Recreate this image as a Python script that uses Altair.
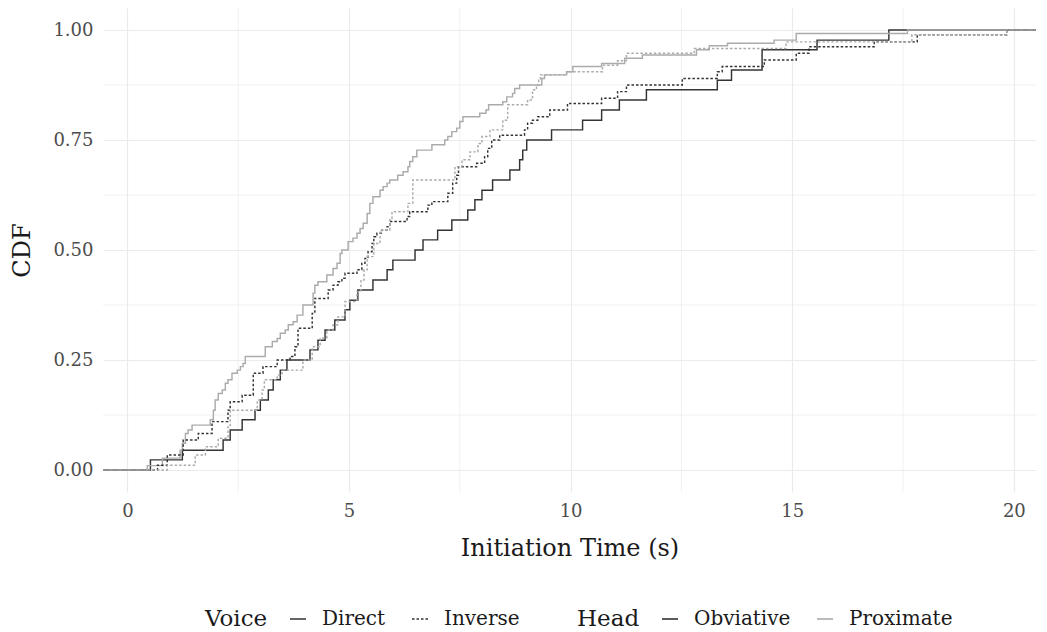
import altair as alt
import pandas as pd

# axis extents (ggplot-style 5% expansion around the data)
X_MIN, X_MAX = -0.55, 20.5
Y_MIN, Y_MAX = -0.05, 1.05

x_ticks = [0, 5, 10, 15, 20]
y_ticks = [0.0, 0.25, 0.50, 0.75, 1.00]
x_minor = [2.5, 7.5, 12.5, 17.5]
y_minor = [0.125, 0.375, 0.625, 0.875]

# Direct / Obviative (dark, solid)
do_time = [0.52, 1.24, 2.16, 2.32, 2.59, 2.88, 3.00, 3.18, 3.29, 3.45, 3.60, 4.12, 4.30, 4.46,
           4.68, 4.91, 5.02, 5.20, 5.54, 5.86, 5.99, 6.49, 6.67, 7.00, 7.32, 7.68, 7.84, 8.00,
           8.24, 8.63, 8.85, 8.92, 9.01, 9.57, 10.27, 10.70, 11.10, 11.71, 13.31, 13.63,
           14.32, 15.56, 17.18]
do_cdf = [0.023, 0.045, 0.068, 0.091, 0.114, 0.136, 0.159, 0.182, 0.205, 0.227, 0.250, 0.273,
          0.295, 0.318, 0.341, 0.364, 0.386, 0.409, 0.432, 0.455, 0.477, 0.500, 0.523, 0.545,
          0.568, 0.591, 0.614, 0.636, 0.659, 0.682, 0.705, 0.727, 0.750, 0.773, 0.795, 0.818,
          0.841, 0.864, 0.886, 0.909, 0.955, 0.977, 1.000]

# Direct / Proximate (grey, solid)
dp_time = [0.45, 0.79, 1.19, 1.24, 1.31, 1.37, 1.46, 1.87, 1.94, 1.98, 2.05, 2.14, 2.21, 2.27,
           2.36, 2.48, 2.55, 2.61, 2.66, 3.11, 3.27, 3.38, 3.45, 3.56, 3.63, 3.74, 3.83, 3.96,
           4.19, 4.23, 4.30, 4.50, 4.64, 4.73, 4.80, 4.84, 4.98, 5.09, 5.18, 5.25, 5.32, 5.41,
           5.47, 5.54, 5.70, 5.77, 5.86, 5.92, 6.10, 6.22, 6.33, 6.37, 6.44, 6.53, 6.87, 7.16,
           7.23, 7.32, 7.43, 7.50, 7.57, 7.95, 8.09, 8.15, 8.47, 8.56, 8.69, 8.74, 8.85, 9.35,
           9.41, 9.91, 10.05, 10.70, 11.22, 11.62, 12.84, 13.13, 13.54, 14.59, 15.09, 17.60]
dp_cdf = [0.010, 0.027, 0.045, 0.061, 0.083, 0.091, 0.102, 0.114, 0.136, 0.159, 0.174, 0.182,
          0.197, 0.205, 0.220, 0.227, 0.235, 0.242, 0.258, 0.280, 0.292, 0.299, 0.311, 0.318,
          0.330, 0.337, 0.352, 0.375, 0.402, 0.420, 0.428, 0.443, 0.458, 0.470, 0.492, 0.500,
          0.519, 0.527, 0.538, 0.549, 0.561, 0.583, 0.606, 0.621, 0.636, 0.644, 0.652, 0.659,
          0.670, 0.678, 0.689, 0.701, 0.712, 0.727, 0.739, 0.750, 0.758, 0.769, 0.777, 0.792,
          0.803, 0.811, 0.818, 0.830, 0.837, 0.848, 0.856, 0.867, 0.875, 0.890, 0.898, 0.905,
          0.917, 0.924, 0.936, 0.943, 0.955, 0.964, 0.970, 0.977, 0.992, 1.000]

# Inverse / Obviative (dark, dotted)
io_time = [0.68, 0.90, 1.26, 1.60, 1.91, 2.27, 2.32, 2.59, 2.84, 3.06, 3.38, 3.67, 3.78, 3.85,
           4.17, 4.23, 4.53, 4.64, 4.75, 4.84, 4.91, 5.18, 5.29, 5.36, 5.43, 5.52, 5.56, 5.63,
           5.74, 5.86, 5.92, 6.31, 6.37, 6.78, 6.87, 7.23, 7.34, 7.43, 7.47, 7.88, 8.06, 8.13,
           8.22, 8.40, 8.96, 9.03, 9.14, 9.26, 9.53, 9.93, 10.70, 11.06, 11.26, 12.52, 13.31,
           13.42, 14.37, 15.09, 15.38, 16.85, 17.82, 19.84]
io_cdf = [0.011, 0.034, 0.068, 0.083, 0.110, 0.136, 0.155, 0.170, 0.220, 0.235, 0.250, 0.258,
          0.280, 0.322, 0.356, 0.390, 0.409, 0.420, 0.428, 0.436, 0.447, 0.455, 0.470, 0.481,
          0.496, 0.515, 0.530, 0.538, 0.545, 0.553, 0.565, 0.576, 0.587, 0.602, 0.610, 0.629,
          0.652, 0.670, 0.689, 0.697, 0.712, 0.731, 0.750, 0.761, 0.773, 0.788, 0.795, 0.803,
          0.818, 0.833, 0.845, 0.860, 0.875, 0.890, 0.905, 0.917, 0.932, 0.947, 0.962, 0.973,
          0.989, 1.000]

# Inverse / Proximate (grey, dotted)
ip_time = [0.90, 1.53, 1.76, 2.05, 2.27, 2.32, 2.93, 3.04, 3.09, 3.38, 3.49, 3.96, 4.17, 4.35,
           4.50, 4.64, 4.75, 4.91, 5.18, 5.27, 5.34, 5.41, 5.56, 5.70, 5.92, 5.97, 6.33, 6.44,
           7.39, 7.55, 7.73, 7.91, 8.00, 8.18, 8.47, 8.58, 9.03, 9.14, 9.23, 9.28, 9.32, 9.91,
           10.72, 11.06, 11.26, 12.79, 14.86, 17.70, 19.84]
ip_cdf = [0.011, 0.034, 0.053, 0.072, 0.098, 0.136, 0.159, 0.182, 0.205, 0.216, 0.227, 0.250,
          0.280, 0.300, 0.318, 0.330, 0.348, 0.383, 0.405, 0.432, 0.455, 0.485, 0.515, 0.545,
          0.568, 0.587, 0.606, 0.659, 0.689, 0.705, 0.723, 0.742, 0.758, 0.773, 0.795, 0.830,
          0.841, 0.864, 0.875, 0.886, 0.898, 0.905, 0.920, 0.930, 0.947, 0.958, 0.973, 0.989,
          1.000]

series = [
    ("Direct", "Obviative", do_time, do_cdf),
    ("Direct", "Proximate", dp_time, dp_cdf),
    ("Inverse", "Obviative", io_time, io_cdf),
    ("Inverse", "Proximate", ip_time, ip_cdf),
]

rows = []
for voice, head, ts, fs in series:
    key = voice + "-" + head
    rows.append({"t": X_MIN, "F": 0.0, "Voice": voice, "Head": head, "key": key, "o": 0})
    for i, (t, f) in enumerate(zip(ts, fs)):
        rows.append({"t": t, "F": f, "Voice": voice, "Head": head, "key": key, "o": i + 1})
    rows.append({"t": X_MAX, "F": 1.0, "Voice": voice, "Head": head, "key": key, "o": len(ts) + 1})
df = pd.DataFrame(rows)

FONT = "DejaVu Serif"
GRID = "#EBEBEB"

xs = alt.Scale(domain=[X_MIN, X_MAX], nice=False, zero=False)
ys = alt.Scale(domain=[Y_MIN, Y_MAX], nice=False, zero=False)

minor_x = alt.Chart(pd.DataFrame({"v": x_minor})).mark_rule(color=GRID, strokeWidth=0.7).encode(
    x=alt.X("v:Q", scale=xs))
minor_y = alt.Chart(pd.DataFrame({"v": y_minor})).mark_rule(color=GRID, strokeWidth=0.7).encode(
    y=alt.Y("v:Q", scale=ys))

legend_common = dict(orient="none", direction="horizontal", titleOrient="left",
                     symbolType="stroke", symbolStrokeWidth=1.6, symbolSize=256,
                     titlePadding=20, labelOffset=14, columnPadding=22)

lines = alt.Chart(df).mark_line(interpolate="step-after", strokeWidth=1.45, clip=True).encode(
    x=alt.X("t:Q", scale=xs,
            axis=alt.Axis(values=x_ticks, title="Initiation Time (s)", format="d")),
    y=alt.Y("F:Q", scale=ys,
            axis=alt.Axis(values=y_ticks, title="CDF", format=".2f")),
    color=alt.Color("Head:N",
                    scale=alt.Scale(domain=["Obviative", "Proximate"], range=["#333333", "#ababab"]),
                    legend=alt.Legend(legendX=474, legendY=601, **legend_common)),
    strokeDash=alt.StrokeDash("Voice:N",
                              scale=alt.Scale(domain=["Direct", "Inverse"], range=[[1, 0], [2.5, 2]]),
                              legend=alt.Legend(legendX=102, legendY=601,
                                                symbolStrokeColor="#333333", **legend_common)),
    detail="key:N",
    order="o:Q",
)

chart = alt.layer(minor_x, minor_y, lines).properties(
    width=933, height=484,
    autosize=alt.AutoSizeParams(type="none"),
    padding={"left": 95, "top": 0, "right": 3, "bottom": 140},
).configure_view(stroke=None).configure_axis(
    grid=True, gridColor=GRID, gridWidth=1.2, domain=False, ticks=False,
    labelFont=FONT, labelFontSize=18, labelColor="#4d4d4d",
    titleFont=FONT, titleFontSize=24, titleColor="#1a1a1a", titleFontWeight="normal",
).configure_axisX(labelPadding=10, titlePadding=16).configure_axisY(
    labelPadding=10, titlePadding=18
).configure_legend(
    titleFont=FONT, titleFontSize=23, titleFontWeight="normal", titleColor="#1a1a1a",
    labelFont=FONT, labelFontSize=20, labelColor="#1a1a1a",
)

chart.save("out.html", embed_options={"renderer": "svg", "actions": False})
